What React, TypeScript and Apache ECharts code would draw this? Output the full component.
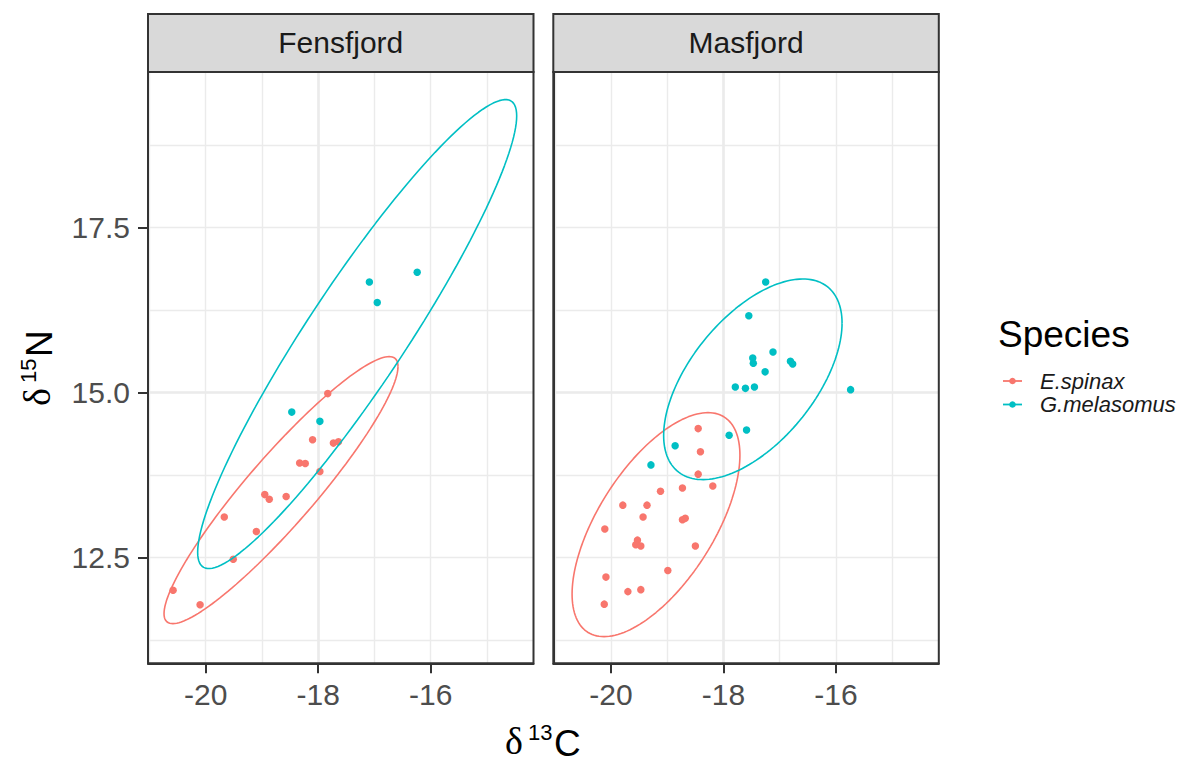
import React, { useEffect, useRef } from "react";
import * as echarts from "echarts";

// ---------- data ----------
const facets = ["Fensfjord", "Masfjord"];
const speciesNames = ["E.spinax", "G.melasomus"];
const speciesColors = ["#F8766D", "#00BFC4"];

const xTicks = [-20, -18, -16];
const yTicks = [12.5, 15, 17.5];
const xRange = [-21.026, -14.172];
const yRange = [10.894, 19.853];

// Fensfjord, E.spinax
const fensSpinaxX = [-17.83, -18.1, -17.73, -17.64, -18.33, -18.23, -17.97, -18.95, -18.87, -18.57, -19.67, -19.1, -19.51, -20.58, -20.1];
const fensSpinaxY = [14.98, 14.28, 14.23, 14.25, 13.93, 13.92, 13.8, 13.45, 13.38, 13.42, 13.11, 12.89, 12.47, 12.0, 11.78];
// Fensfjord, G.melasomus
const fensMelasX = [-18.47, -17.97, -17.09, -16.95, -16.24];
const fensMelasY = [14.7, 14.56, 16.67, 16.36, 16.82];
// Masfjord, E.spinax
const masSpinaxX = [-18.45, -18.41, -18.45, -18.19, -18.73, -19.12, -19.79, -19.36, -19.43, -18.73, -18.68, -20.11, -19.53, -19.56, -19.47, -18.5, -18.99, -20.09, -19.7, -19.47, -20.12];
const masSpinaxY = [14.45, 14.1, 13.76, 13.58, 13.55, 13.5, 13.29, 13.29, 13.11, 13.07, 13.09, 12.93, 12.76, 12.69, 12.67, 12.67, 12.3, 12.2, 11.98, 12.01, 11.79];
// Masfjord, G.melasomus
const masMelasX = [-17.9, -18.86, -19.29, -17.25, -17.55, -17.12, -17.48, -17.47, -16.81, -16.77, -17.26, -17.79, -17.61, -17.45, -15.74, -17.59];
const masMelasY = [14.35, 14.19, 13.9, 16.67, 16.16, 15.61, 15.52, 15.44, 15.47, 15.43, 15.31, 15.08, 15.06, 15.08, 15.04, 14.43];

// ellipses: centre x, centre y, half-range x, half-range y, correlation
const fensSpinaxEllipse = [-18.661, 13.518, 2.08, 2.023, 0.925];
const fensMelasEllipse = [-17.307, 15.882, 2.836, 3.553, 0.93];
const masSpinaxEllipse = [-19.2, 12.995, 1.492, 1.697, 0.62];
const masMelasEllipse = [-17.478, 15.197, 1.586, 1.52, 0.56];

// ---------- helpers ----------
const FONT = "'Liberation Sans', Arial, Helvetica, sans-serif";
const SERIF = "'Liberation Serif', 'Times New Roman', serif";

function zip(xs: number[], ys: number[]) {
  return xs.map((x, i) => [x, ys[i]]);
}

function ellipsePath(p: number[], n = 160) {
  const [cx, cy, sx, sy, rho] = p;
  const k = Math.sqrt(1 - rho * rho);
  const pts: number[][] = [];
  for (let i = 0; i <= n; i++) {
    const t = (2 * Math.PI * i) / n;
    pts.push([cx + sx * Math.cos(t), cy + sy * (rho * Math.cos(t) + k * Math.sin(t))]);
  }
  return pts;
}

const panelTop = 72;
const panelH = 591.3;
const panelW = 385.5;
const panelLefts = [148, 553.3];

function txtStyle(text: string, font: string, lh: number) {
  return {
    text,
    font,
    fill: "#000",
    lineHeight: lh,
    align: "left",
    verticalAlign: "middle",
    textAlign: "left",
    textVerticalAlign: "middle",
  };
}

function titleGroup(x: number, y: number, sup: string, letter: string, rotation: number) {
  return {
    type: "group",
    x,
    y,
    rotation,
    children: [
      { type: "text", x: -39, y: -16, style: txtStyle("δ", `38px ${SERIF}`, 30) },
      { type: "text", x: -16, y: -25, style: txtStyle(sup, `22px ${FONT}`, 22) },
      { type: "text", x: 10, y: -14, style: txtStyle(letter, `37px ${FONT}`, 32) },
    ],
  };
}

export default function App() {
  const ref = useRef<HTMLDivElement>(null);

  useEffect(() => {
    if (!ref.current) return;
    const chart = echarts.init(ref.current, undefined, { renderer: "svg" });

    const grids = panelLefts.map((l) => ({
      left: l,
      top: panelTop,
      width: panelW,
      height: panelH,
      containLabel: false,
      outerBoundsMode: "none",
    }));

    const mainX = [0, 1].map((g) => ({
      type: "value",
      gridIndex: g,
      min: xRange[0],
      max: xRange[1],
      minInterval: 2,
      maxInterval: 2,
      position: "bottom",
      axisLine: { show: true, onZero: false, lineStyle: { color: "#333333", width: 2 } },
      axisTick: { show: true, customValues: xTicks, length: 10, lineStyle: { color: "#333333", width: 2 } },
      axisLabel: { customValues: xTicks, fontSize: 30, fontFamily: FONT, color: "#4D4D4D", margin: 16 },
      splitLine: { show: true, showMinLine: false, showMaxLine: false, lineStyle: { color: "#EBEBEB", width: 2.6 } },
    }));
    const minorX = [0, 1].map((g) => ({
      type: "value",
      gridIndex: g,
      min: xRange[0],
      max: xRange[1],
      minInterval: 1,
      maxInterval: 1,
      position: "top",
      axisLine: { show: false },
      axisTick: { show: false },
      axisLabel: { show: false },
      splitLine: { show: true, showMinLine: false, showMaxLine: false, lineStyle: { color: "#EBEBEB", width: 1.4 } },
    }));
    const mainY = [0, 1].map((g) => ({
      type: "value",
      gridIndex: g,
      min: yRange[0],
      max: yRange[1],
      minInterval: 2.5,
      maxInterval: 2.5,
      position: "left",
      axisLine: { show: true, onZero: false, lineStyle: { color: "#333333", width: 2 } },
      axisTick: { show: g === 0, customValues: yTicks, length: 10, lineStyle: { color: "#333333", width: 2 } },
      axisLabel: {
        show: g === 0,
        customValues: yTicks,
        fontSize: 30,
        fontFamily: FONT,
        color: "#4D4D4D",
        margin: 18,
        formatter: (v: number) => v.toFixed(1),
      },
      splitLine: { show: true, showMinLine: false, showMaxLine: false, lineStyle: { color: "#EBEBEB", width: 2.6 } },
    }));
    const minorY = [0, 1].map((g) => ({
      type: "value",
      gridIndex: g,
      min: yRange[0],
      max: yRange[1],
      minInterval: 1.25,
      maxInterval: 1.25,
      position: "right",
      axisLine: { show: false },
      axisTick: { show: false },
      axisLabel: { show: false },
      splitLine: { show: true, showMinLine: false, showMaxLine: false, lineStyle: { color: "#EBEBEB", width: 1.4 } },
    }));

    const pointSets = [
      [zip(fensSpinaxX, fensSpinaxY), zip(fensMelasX, fensMelasY)],
      [zip(masSpinaxX, masSpinaxY), zip(masMelasX, masMelasY)],
    ];
    const ellipseSets = [
      [fensSpinaxEllipse, fensMelasEllipse],
      [masSpinaxEllipse, masMelasEllipse],
    ];

    const series: any[] = [];
    facets.forEach((_, f) => {
      speciesNames.forEach((sp, s) => {
        series.push({
          name: sp,
          type: "scatter",
          xAxisIndex: f,
          yAxisIndex: f,
          data: pointSets[f][s],
          symbol: "circle",
          symbolSize: 7.5,
          itemStyle: { color: speciesColors[s], opacity: 1 },
          z: 3,
          silent: true,
        });
        series.push({
          name: sp + " ellipse",
          type: "line",
          xAxisIndex: f,
          yAxisIndex: f,
          data: ellipsePath(ellipseSets[f][s]),
          showSymbol: false,
          symbol: "none",
          smooth: false,
          lineStyle: { color: speciesColors[s], width: 1.6 },
          z: 4,
          silent: true,
        });
      });
    });

    const graphic: any[] = [];
    facets.forEach((name, f) => {
      const l = panelLefts[f];
      graphic.push({
        type: "rect",
        shape: { x: l, y: 14, width: panelW, height: panelTop - 14 },
        style: { fill: "#D9D9D9", stroke: "#333333", lineWidth: 2 },
        z: 100,
      });
      graphic.push({
        type: "text",
        x: l + panelW / 2,
        y: 42,
        style: { text: name, font: `30px ${FONT}`, fill: "#1A1A1A", align: "center", verticalAlign: "middle", textAlign: "center", textVerticalAlign: "middle" },
        z: 101,
      });
      graphic.push({
        type: "rect",
        shape: { x: l, y: panelTop, width: panelW, height: panelH },
        style: { fill: "none", stroke: "#333333", lineWidth: 2 },
        z: 100,
      });
    });
    graphic.push(titleGroup(544, 757, "13", "C", 0));
    graphic.push(titleGroup(53, 367, "15", "N", Math.PI / 2));

    // legend
    graphic.push({
      type: "text",
      x: 998,
      y: 334,
      style: { text: "Species", font: `37px ${FONT}`, fill: "#000", align: "left", verticalAlign: "middle", textAlign: "left", textVerticalAlign: "middle" },
      z: 101,
    });
    const legendYs = [381, 404.5];
    speciesNames.forEach((sp, s) => {
      const y = legendYs[s];
      graphic.push({
        type: "line",
        shape: { x1: 1003, y1: y, x2: 1022, y2: y },
        style: { stroke: speciesColors[s], lineWidth: 1.8 },
        z: 101,
      });
      graphic.push({
        type: "circle",
        shape: { cx: 1012.5, cy: y, r: 3.3 },
        style: { fill: speciesColors[s] },
        z: 102,
      });
      graphic.push({
        type: "text",
        x: 1040,
        y,
        style: { text: sp, font: `italic 22px ${FONT}`, fill: "#1A1A1A", align: "left", verticalAlign: "middle", textAlign: "left", textVerticalAlign: "middle" },
        z: 101,
      });
    });

    chart.setOption({
      animation: false,
      backgroundColor: "#FFFFFF",
      grid: grids,
      xAxis: [...mainX, ...minorX],
      yAxis: [...mainY, ...minorY],
      series,
      graphic,
    });

    return () => chart.dispose();
  }, []);

  return (
    <div
      ref={ref}
      style={{ position: "absolute", left: 0, top: 0, width: 1188, height: 762, background: "#fff" }}
    />
  );
}
